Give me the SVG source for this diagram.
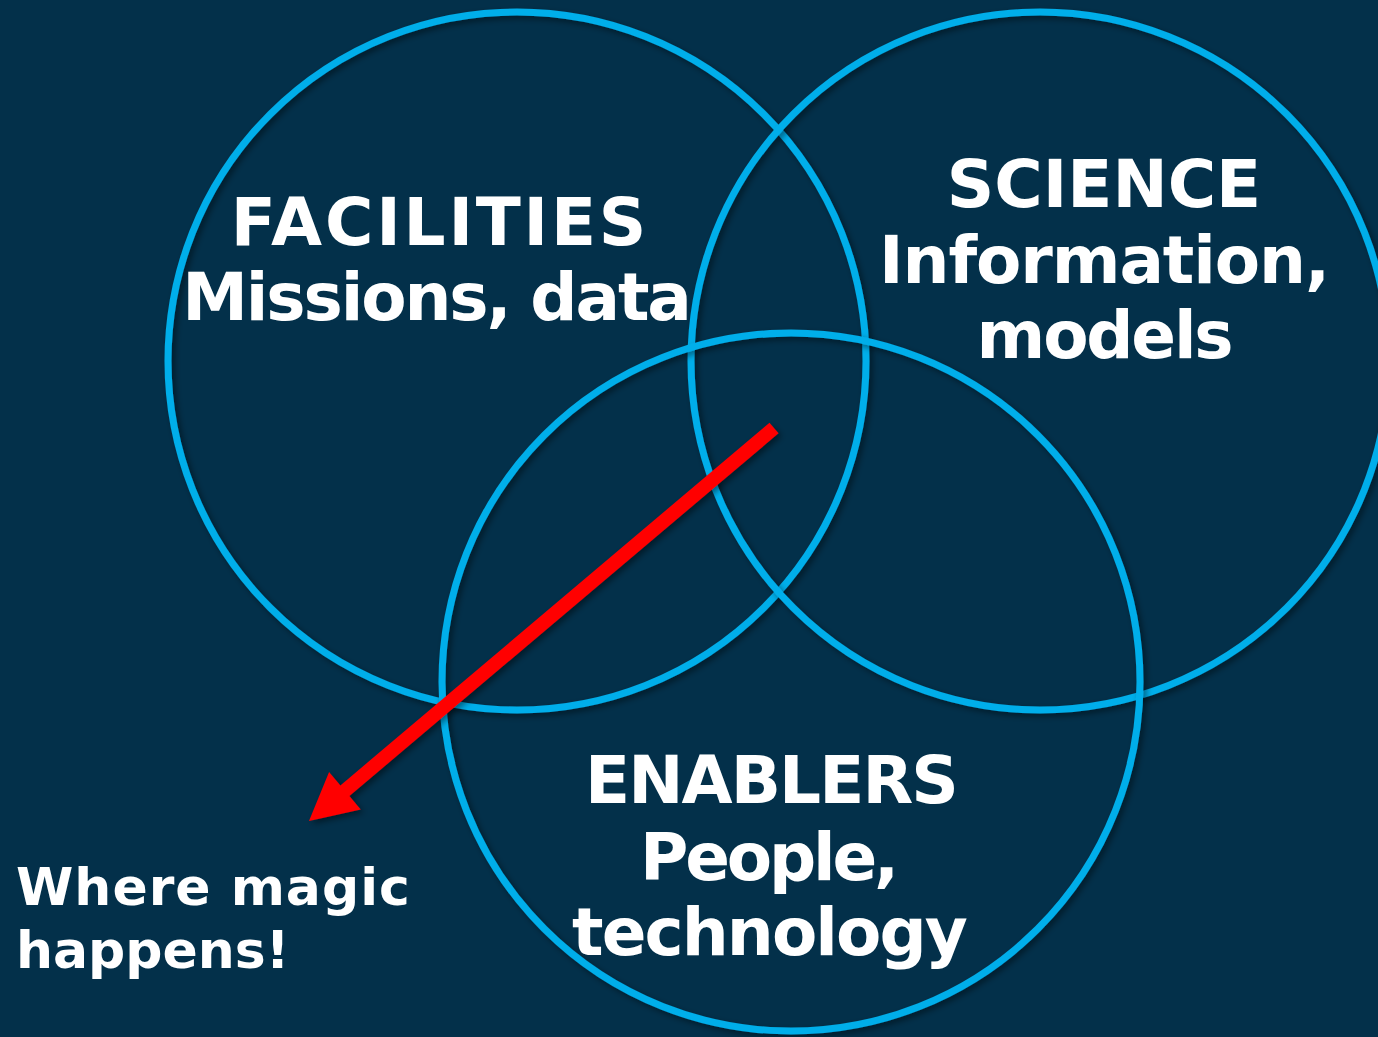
<svg xmlns="http://www.w3.org/2000/svg" width="1378" height="1037" viewBox="0 0 1378 1037">
  <defs>
    <filter id="shadow" x="-20%" y="-20%" width="140%" height="140%">
      <feDropShadow dx="3" dy="3" stdDeviation="3" flood-color="#000000" flood-opacity="0.45"/>
    </filter>
  </defs>
  <style>
    .ring { fill: none; stroke: #03aeea; stroke-width: 7; }
    .label { font-family: "DejaVu Sans", Verdana, sans-serif; font-weight: bold; fill: #ffffff; font-size: 66px; text-anchor: middle; }
    .note { font-family: "DejaVu Sans", Verdana, sans-serif; font-weight: bold; fill: #ffffff; font-size: 52px; }
  </style>
  <rect width="1378" height="1037" fill="#03304a"/>

  <g id="facilities">
    <circle class="ring" cx="517" cy="361" r="349" filter="url(#shadow)"/>
  </g>
  <g id="science">
    <circle class="ring" cx="1040" cy="361" r="349" filter="url(#shadow)"/>
  </g>
  <g id="enablers">
    <circle class="ring" cx="791" cy="682" r="349" filter="url(#shadow)"/>
  </g>

  <g id="labels">
    <text class="label" x="440" y="245" letter-spacing="2.8">FACILITIES</text>
    <text class="label" x="436" y="320" letter-spacing="-2.1">Missions, data</text>
    <text class="label" x="1104" y="207">SCIENCE</text>
    <text class="label" x="1104" y="283" letter-spacing="-1.1">Information,</text>
    <text class="label" x="1104" y="358" letter-spacing="-2.2">models</text>
    <text class="label" x="771" y="803" letter-spacing="-1.9">ENABLERS</text>
    <text class="label" x="768" y="880" letter-spacing="-3.2">People,</text>
    <text class="label" x="769" y="955" letter-spacing="-1.9">technology</text>
  </g>

  <g id="connectors">
    <polygon points="769.5,422.7 778.5,433.3 349.4,796 360.7,809.4 309,821 329.1,772 340.4,785.4" fill="#ff0000" filter="url(#shadow)"/>
  </g>

  <g id="note">
    <text class="note" x="16" y="905" letter-spacing="1">Where magic</text>
    <text class="note" x="16" y="968">happens!</text>
  </g>
</svg>
